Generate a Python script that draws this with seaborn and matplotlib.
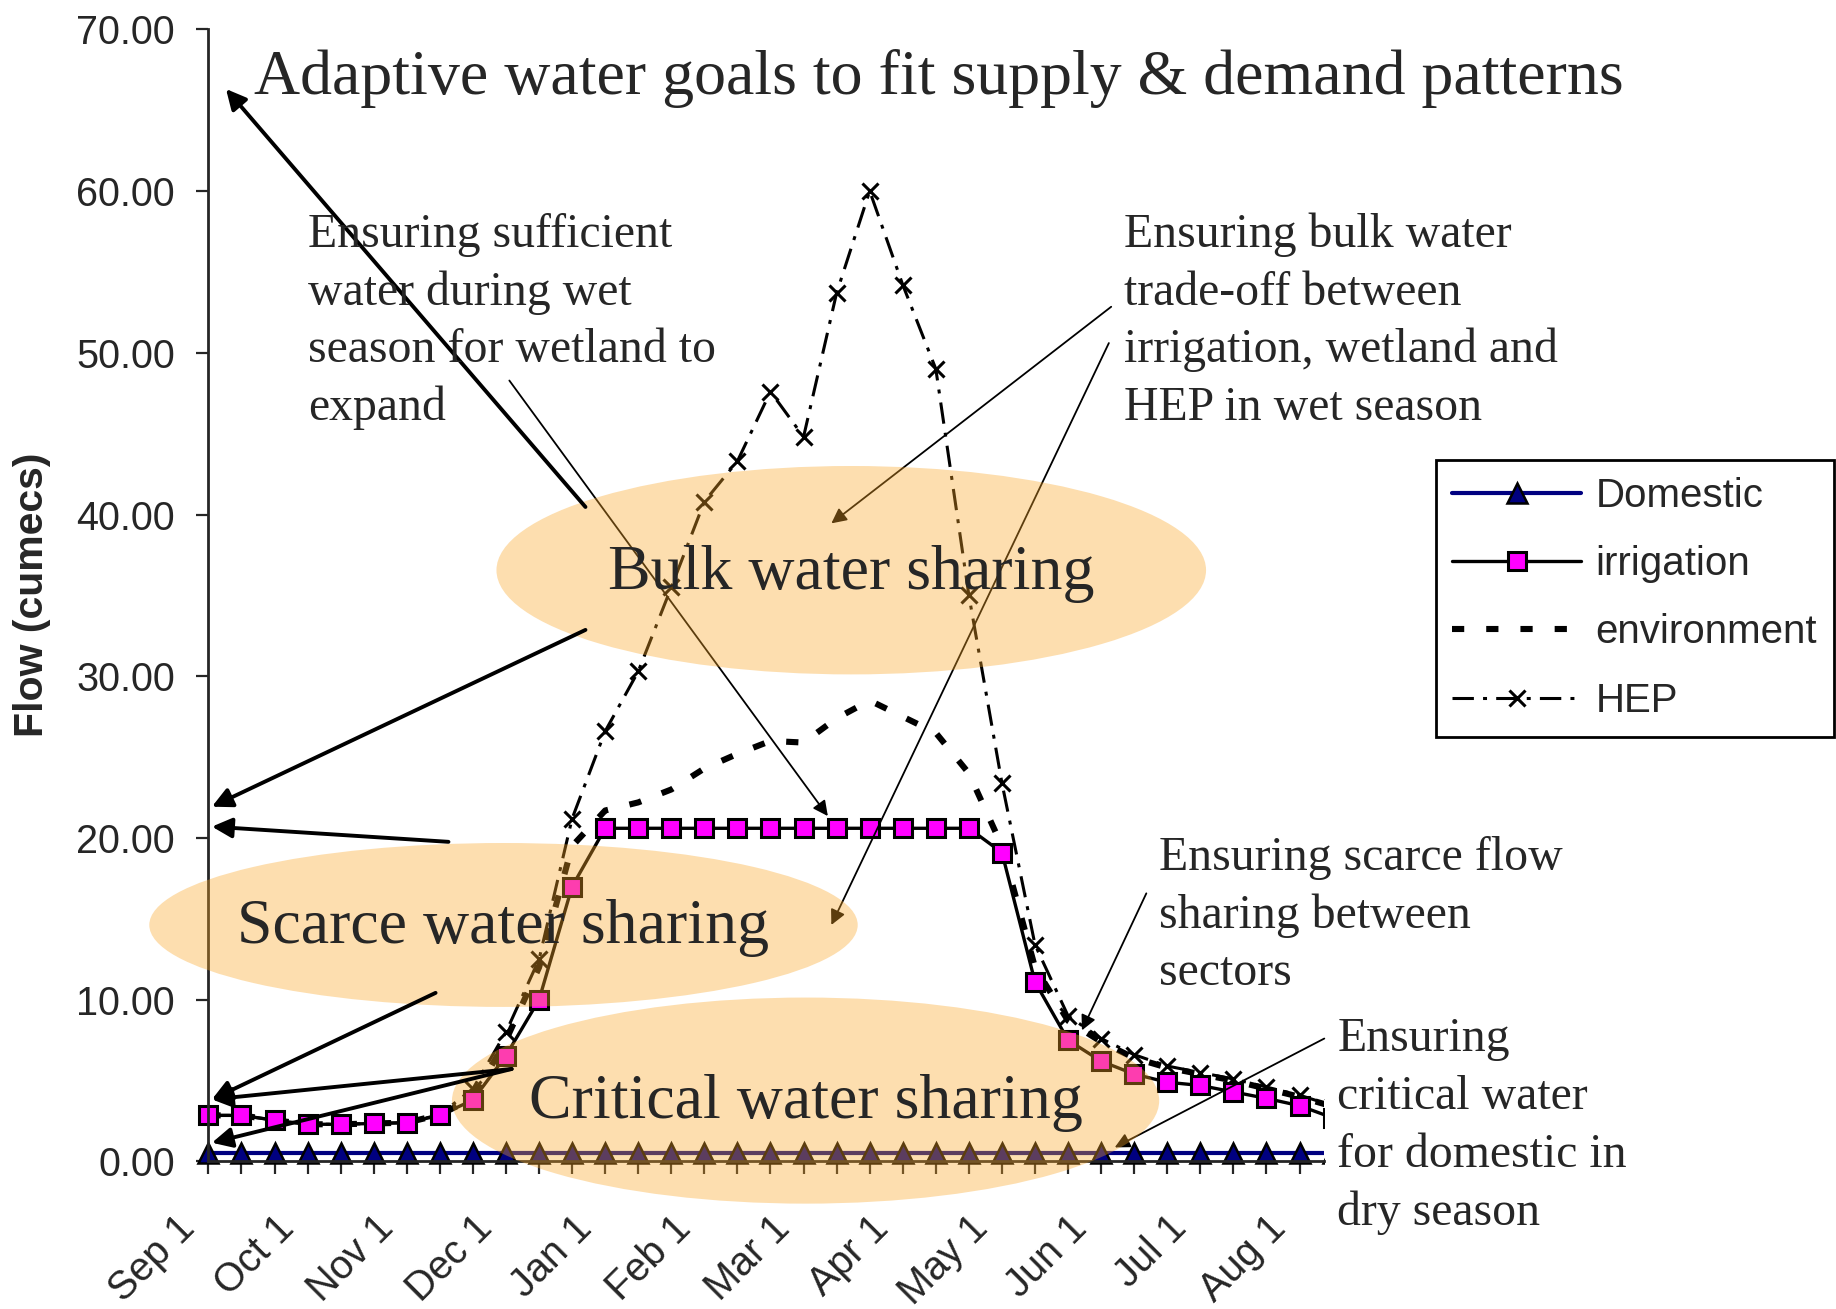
import numpy as np
import pandas as pd
import matplotlib
matplotlib.use('Agg')
import matplotlib.pyplot as plt
import seaborn as sns
from matplotlib.patches import Ellipse, Rectangle
from matplotlib.ticker import FixedLocator, FormatStrFormatter
from matplotlib.transforms import ScaledTranslation

# 10-day steps from Sep 1 to Aug 21
dekad = np.arange(36)
month_pos = [0, 3, 6, 9, 12, 15, 18, 21, 24, 27, 30, 33]
month_labels = ['Sep 1', 'Oct 1', 'Nov 1', 'Dec 1', 'Jan 1', 'Feb 1',
                'Mar 1', 'Apr 1', 'May 1', 'Jun 1', 'Jul 1', 'Aug 1']

domestic = [0.5, 0.5, 0.5, 0.5, 0.5, 0.5, 0.5, 0.5, 0.5, 0.5, 0.5, 0.5,
            0.5, 0.5, 0.5, 0.5, 0.5, 0.5, 0.5, 0.5, 0.5, 0.5, 0.5, 0.5,
            0.5, 0.5, 0.5, 0.5, 0.5, 0.5, 0.5, 0.5, 0.5, 0.5, 0.5, 0.5]
irrigation = [2.85, 2.85, 2.55, 2.3, 2.3, 2.35, 2.4, 2.85, 3.8, 6.55, 10.0, 17.0,
              20.6, 20.6, 20.6, 20.6, 20.6, 20.6, 20.6, 20.6, 20.6, 20.6, 20.6, 20.6,
              19.1, 11.1, 7.5, 6.2, 5.4, 4.9, 4.7, 4.3, 3.9, 3.45, 2.7, 2.5]
environment = [2.85, 2.85, 2.55, 2.3, 2.3, 2.35, 2.4, 2.9, 3.9, 7.5, 12.0, 19.5,
               21.7, 22.2, 23.0, 24.3, 25.2, 26.0, 25.9, 27.4, 28.5, 27.5, 26.5, 24.0,
               19.5, 12.0, 8.7, 7.4, 6.4, 5.8, 5.4, 5.0, 4.5, 4.0, 3.4, 3.2]
hep = [2.85, 2.85, 2.55, 2.3, 2.3, 2.35, 2.4, 2.9, 4.5, 8.0, 12.5, 21.2,
       26.6, 30.3, 35.5, 40.8, 43.3, 47.6, 44.8, 53.7, 60.0, 54.2, 49.0, 35.0,
       23.4, 13.4, 9.0, 7.6, 6.6, 5.9, 5.5, 5.1, 4.6, 4.1, 3.45, 3.2]

sns.set_style('ticks')
plt.rcParams['font.family'] = ['Liberation Sans', 'DejaVu Sans']
SERIF = ['Liberation Serif', 'DejaVu Serif']

W, H = 1568, 1118   # layout grid used for the annotations
fig = plt.figure(figsize=(18.36, 13.09), dpi=100)
ax = fig.add_axes([178 / W, 1 - 992 / H, (1131 - 178) / W, (992 - 25) / H])

sns.lineplot(x=dekad, y=hep, ax=ax, color='black', lw=2.2,
             linestyle=(0, (7, 3, 1.3, 3)), marker='x', markersize=12,
             markeredgewidth=2.2, markeredgecolor='black', label='HEP')
sns.lineplot(x=dekad, y=environment, ax=ax, color='black', lw=4.4,
             linestyle=(0, (2, 3.6)), label='environment')
sns.lineplot(x=dekad, y=domestic, ax=ax, color='#000080', lw=3, marker='^',
             markersize=15, markerfacecolor='#000080', markeredgecolor='black',
             markeredgewidth=1.8, label='Domestic')
sns.lineplot(x=dekad, y=irrigation, ax=ax, color='black', lw=2.4, marker='s',
             markersize=12.5, markerfacecolor='#FF00FF', markeredgecolor='black',
             markeredgewidth=2.2, label='irrigation')

# keep the first markers whole, cut the lines at the right edge
for ln in ax.lines:
    ln.set_clip_path(Rectangle((-0.05, -0.05), 1.05, 1.1, transform=ax.transAxes))

ax.set_xlim(0, 33.75)
ax.set_ylim(0, 70)
ax.set_xlabel('')
ax.set_ylabel('')
sns.despine(ax=ax)
for s in ['left', 'bottom']:
    ax.spines[s].set_linewidth(2)

ax.set_yticks(range(0, 71, 10))
ax.yaxis.set_major_formatter(FormatStrFormatter('%.2f'))
ax.tick_params(axis='y', length=9, width=1.6, pad=15, labelsize=28.5)

ax.set_xticks(month_pos)
ax.set_xticklabels(month_labels, rotation=45, ha='right', va='baseline',
                   rotation_mode='anchor')
ax.xaxis.set_minor_locator(FixedLocator(dekad[:34]))
ax.tick_params(axis='x', which='both', direction='out', length=9.4, width=1.6)
ax.tick_params(axis='x', which='major', pad=40, labelsize=28.5)
for lab in ax.get_xticklabels():
    lab.set_transform(lab.get_transform() + ScaledTranslation(-0.12, 0, fig.dpi_scale_trans))

h, l = ax.get_legend_handles_labels()
order = ['Domestic', 'irrigation', 'environment', 'HEP']
h = [h[l.index(o)] for o in order]
leg = ax.legend(h, order, loc='upper left', bbox_to_anchor=(1226 / W, 1 - 393 / H),
                bbox_transform=fig.transFigure, frameon=True, fancybox=False,
                edgecolor='black', framealpha=1, fontsize=29, handlelength=3.2,
                handletextpad=0.35, labelspacing=0.75, borderpad=0.42, borderaxespad=0)
leg.get_frame().set_linewidth(2)

# annotation layer on top of the chart
ov = fig.add_axes([0, 0, 1, 1])
ov.set_xlim(0, W)
ov.set_ylim(H, 0)
ov.axis('off')

ov.text(27, 508, 'Flow (cumecs)', rotation=90, ha='center', va='center',
        fontsize=29.5, fontweight='bold')

thin = dict(arrowstyle='-|>,head_length=0.5,head_width=0.25', color='black',
            lw=1.3, mutation_scale=18, shrinkA=0, shrinkB=0)
thick = dict(arrowstyle='-|>,head_length=0.6,head_width=0.3', color='black',
             lw=2.8, mutation_scale=20, shrinkA=0, shrinkB=0)

for tail, head in [((435, 325), (707, 697)), ((949, 262), (710, 447)),
                   ((947, 293), (710, 790)), ((979, 763), (924, 880)),
                   ((1131, 887), (952, 980))]:
    ov.annotate('', xy=head, xytext=tail, arrowprops=thin, zorder=2)

fill = '#FAA627'
for (cx, cy), w, hh in [((727, 487), 606, 178), ((430, 790), 605, 140),
                        ((688, 940), 604, 176)]:
    ov.add_patch(Ellipse((cx, cy), w, hh, facecolor=fill, alpha=0.37, lw=0, zorder=3))

for tail, head in [((500, 433), (193, 76)), ((500, 538), (181, 689)),
                   ((383, 719), (181, 706)), ((372, 848), (181, 939)),
                   ((437, 913), (181, 939)), ((437, 913), (181, 976))]:
    ov.annotate('', xy=head, xytext=tail, arrowprops=thick, zorder=4)

ov.text(217, 80, 'Adaptive water goals to fit supply & demand patterns',
        fontsize=46, family=SERIF, va='baseline', zorder=5)
ov.text(727, 490, 'Bulk water sharing', fontsize=46, family=SERIF,
        ha='center', va='center', zorder=5)
ov.text(430, 793, 'Scarce water sharing', fontsize=46, family=SERIF,
        ha='center', va='center', zorder=5)
ov.text(688, 942, 'Critical water sharing', fontsize=46, family=SERIF,
        ha='center', va='center', zorder=5)


def note(x, y0, lines):
    for i, s in enumerate(lines):
        ov.text(x, y0 + i * 49.3, s, fontsize=34.4, family=SERIF,
                va='baseline', zorder=5)


note(263, 211, ['Ensuring sufficient', 'water during wet',
                'season for wetland to', 'expand'])
note(960, 211, ['Ensuring bulk water', 'trade-off between',
                'irrigation, wetland and', 'HEP in wet season'])
note(990, 743, ['Ensuring scarce flow', 'sharing between', 'sectors'])
note(1142, 898, ['Ensuring', 'critical water', 'for domestic in', 'dry season'])

fig.savefig('out.png', dpi=100)
